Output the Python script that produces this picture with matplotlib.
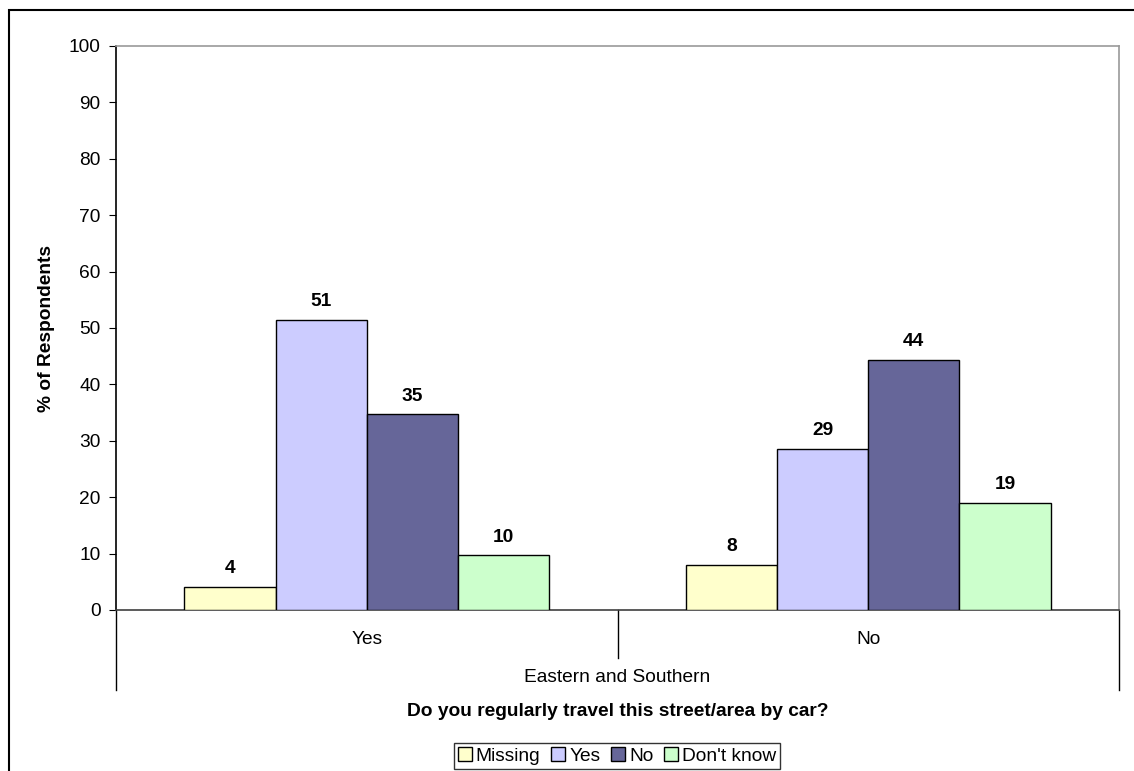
import matplotlib

matplotlib.use("Agg")
import matplotlib.pyplot as plt
from matplotlib.patches import Rectangle
import numpy as np

plt.rcParams["font.family"] = ["Liberation Sans", "DejaVu Sans"]

categories = ["Yes", "No"]
group_label = "Eastern and Southern"
series_names = ["Missing", "Yes", "No", "Don't know"]
missing_vals = [4.1, 8.0]
yes_vals = [51.4, 28.6]
no_vals = [34.7, 44.3]
dontknow_vals = [9.7, 19.0]
colors = ["#FFFFCC", "#CCCCFF", "#666699", "#CCFFCC"]

series = [missing_vals, yes_vals, no_vals, dontknow_vals]
FS = 13.8

fig = plt.figure(figsize=(11.34, 7.71), dpi=100)
ax = fig.add_axes([116 / 1134, 1 - 610 / 771, (1119 - 116) / 1134, (610 - 46) / 771])

x = np.arange(len(categories))
width = 1 / 5.5
for i, (vals, name, col) in enumerate(zip(series, series_names, colors)):
    pos = x + (i - 1.5) * width
    bars = ax.bar(pos, vals, width, color=col, edgecolor="black", linewidth=1.0,
                  label=name, zorder=3)
    for b, v in zip(bars, vals):
        ax.annotate(f"{v:.0f}", (b.get_x() + b.get_width() / 2, v),
                    xytext=(0, 7), textcoords="offset points",
                    ha="center", va="bottom", fontsize=FS, fontweight="bold")

ax.set_xlim(-0.5, 1.5)
ax.set_ylim(0, 100)
ax.set_yticks(np.arange(0, 101, 10))
ax.tick_params(axis="y", labelsize=FS, length=5, direction="out", pad=6)
ax.set_xticks([])
ax.set_ylabel("% of Respondents", fontsize=FS, fontweight="bold", labelpad=10)

ax.spines["left"].set_color("black")
ax.spines["bottom"].set_color("#404040")
ax.spines["top"].set_color("#999999")
ax.spines["right"].set_color("#999999")
for s in ax.spines.values():
    s.set_linewidth(1.2)

# category labels and separators below the axis
trans = ax.get_xaxis_transform()
h = 610 - 46
for xi, cat in zip(x, categories):
    ax.text(xi, -30 / h, cat, transform=trans, ha="center", va="center", fontsize=FS)
ax.text(0.5, -68 / h, group_label, transform=trans, ha="center", va="center", fontsize=FS)
ax.plot([0.5, 0.5], [0, -48 / h], transform=trans, color="black", lw=1, clip_on=False)
for bx in [-0.5, 1.5]:
    ax.plot([bx, bx], [0, -80 / h], transform=trans, color="black", lw=1, clip_on=False)

ax.text(0.5, -102 / h, "Do you regularly travel this street/area by car?",
        transform=trans, ha="center", va="center", fontsize=FS, fontweight="bold")

leg = fig.legend(loc="center", bbox_to_anchor=(617 / 1134, 1 - 756 / 771), ncol=4,
                 fontsize=FS, frameon=True, fancybox=False, edgecolor="black",
                 handlelength=0.75, handleheight=0.75, handletextpad=0.2,
                 columnspacing=0.55, borderpad=0.2, borderaxespad=0)
leg.get_frame().set_linewidth(1.0)

fig.patches.append(Rectangle((9 / 1134, -0.05), 1.1, 1 - 10 / 771 + 0.05,
                             transform=fig.transFigure, fill=False,
                             edgecolor="black", linewidth=1.5))

fig.savefig("out.png", dpi=100)
plt.close(fig)
